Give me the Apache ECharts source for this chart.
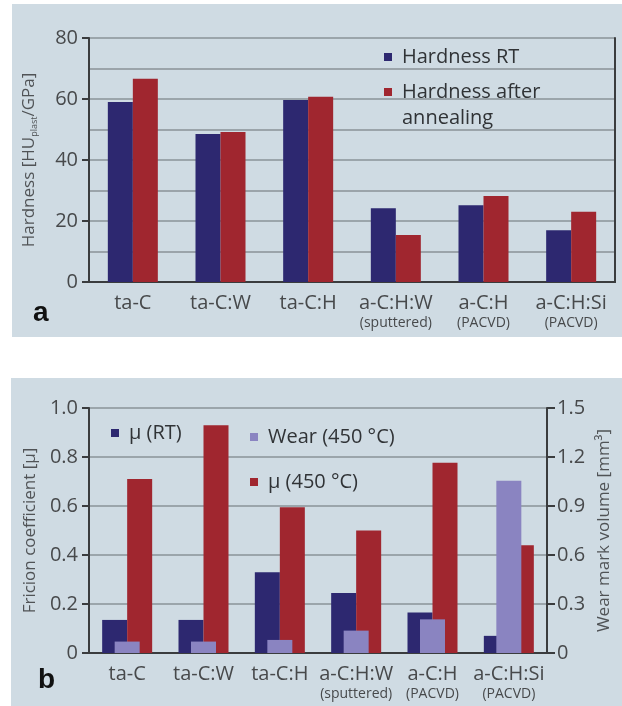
<!DOCTYPE html>
<html>
<head>
<meta charset="utf-8">
<script src="https://cdn.jsdelivr.net/npm/echarts@6/dist/echarts.min.js"></script>
<style>
  html, body { margin: 0; padding: 0; background: #ffffff; width: 622px; height: 706px; overflow: hidden; }
  .panel { position: absolute; background: #cfdbe3; }
  #chartA { left: 12px; top: 4px; width: 610px; height: 333px; }
  #chartB { left: 11px; top: 378px; width: 611px; height: 328px; }
</style>
</head>
<body>
<div id="chartA" class="panel"></div>
<div id="chartB" class="panel"></div>
<script>
// Coating types and their deposition process notes
const categories = ['ta-C', 'ta-C:W', 'ta-C:H', 'a-C:H:W', 'a-C:H', 'a-C:H:Si'];
const processNotes = ['', '', '', '(sputtered)', '(PACVD)', '(PACVD)'];

// Panel a: hardness (GPa)
const hardnessRT = [59, 48.5, 59.7, 24.2, 25.2, 17];
const hardnessAnnealed = [66.6, 49.2, 60.7, 15.4, 28.2, 23];
const hardnessTicks = [0, 20, 40, 60, 80];

// Panel b: friction coefficient and wear volume (mm³)
const frictionRT = [0.135, 0.135, 0.33, 0.245, 0.165, 0.07];
const friction450 = [0.71, 0.93, 0.595, 0.5, 0.777, 0.44];
const wear450 = [0.07, 0.07, 0.08, 0.137, 0.206, 1.055];
const frictionTicks = [0, 0.2, 0.4, 0.6, 0.8, 1.0];
const wearTicks = [0, 0.3, 0.6, 0.9, 1.2, 1.5];

const seriesNames = {
  hardRT: 'Hardness RT',
  hardAnn: 'Hardness after annealing',
  muRT: 'μ (RT)',
  wear: 'Wear (450 °C)',
  mu450: 'μ (450 °C)'
};

const FONT = '"Open Sans", "Noto Sans", sans-serif';
const NAVY = '#2d2870';
const RED = '#a0262f';
const LAVENDER = '#8a84c1';
const DARK = '#3a3c3e';
const GRID = '#8a9398';
const LABEL = '#47494b';

function catLabel(value) {
  const i = categories.indexOf(value);
  const note = processNotes[i];
  return note ? '{m|' + value + '}\n{s|' + note + '}' : '{m|' + value + '}';
}
const catRich = {
  m: { fontFamily: FONT, fontSize: 20, lineHeight: 22, color: LABEL },
  s: { fontFamily: FONT, fontSize: 14, lineHeight: 18, color: LABEL }
};
function tickFmt(v) { return v === 0 ? '0' : v.toFixed(1); }

// The two-line legend entry gets an empty first line so that its icon,
// which sits at the vertical middle of the text block, lines up with "Hardness after".
function legendText(n) {
  return n === seriesNames.hardAnn ? '\nHardness after\nannealing' : n;
}

function legendBox(name, left, top, color) {
  return {
    data: [{ name: name, icon: 'rect', itemStyle: { color: color } }],
    orient: 'vertical', left: left, top: top, padding: 0,
    itemWidth: 8, itemHeight: 8,
    formatter: legendText,
    textStyle: {
      fontFamily: FONT, fontSize: 20, lineHeight: 26, color: '#303336',
      padding: [0, 0, 0, 5]
    }
  };
}

// ---------- Panel a ----------
const chartA = echarts.init(document.getElementById('chartA'), null, { renderer: 'canvas' });
chartA.setOption({
  animation: false,
  grid: { left: 77, right: 7, top: 34, bottom: 55 },
  legend: [
    legendBox(seriesNames.hardRT, 372, 40, NAVY),
    legendBox(seriesNames.hardAnn, 372, 49, RED)
  ],
  xAxis: [{
    type: 'category', data: categories, position: 'bottom',
    axisLine: { lineStyle: { color: DARK, width: 2 } },
    axisTick: { show: false },
    axisLabel: { interval: 0, margin: 10, formatter: catLabel, rich: catRich }
  }, {
    type: 'category', data: categories, position: 'top',
    axisLine: { lineStyle: { color: DARK, width: 2 } },
    axisTick: { show: false }, axisLabel: { show: false }
  }],
  yAxis: [{
    type: 'value', min: hardnessTicks[0], max: hardnessTicks[hardnessTicks.length - 1], interval: 20,
    name: '{t|Hardness [HU}{sub|plast}{t|/GPa]}',
    nameLocation: 'middle', nameRotate: 90, nameGap: 50,
    nameTextStyle: {
      rich: {
        t: { fontFamily: FONT, fontSize: 17, color: '#505356' },
        sub: { fontFamily: FONT, fontSize: 9, color: '#505356', padding: [10, 0, 0, 0] }
      }
    },
    axisLine: { show: true, lineStyle: { color: DARK, width: 2 } },
    axisTick: { show: true, length: 7, lineStyle: { color: DARK, width: 2 } },
    axisLabel: { margin: 11, fontFamily: FONT, fontSize: 20, color: LABEL },
    splitLine: { show: true, lineStyle: { color: GRID, width: 1.5 } },
    minorTick: { show: false, splitNumber: 2 },
    minorSplitLine: { show: true, lineStyle: { color: GRID, width: 1.5 } }
  }, {
    type: 'value', position: 'right', min: 0, max: 80,
    axisLine: { show: true, lineStyle: { color: DARK, width: 2 } },
    axisTick: { show: false }, axisLabel: { show: false }, splitLine: { show: false }
  }],
  series: [{
    name: seriesNames.hardRT, type: 'bar', data: hardnessRT,
    barWidth: 25, barGap: '0%', itemStyle: { color: NAVY }
  }, {
    name: seriesNames.hardAnn, type: 'bar', data: hardnessAnnealed,
    barWidth: 25, barGap: '0%', itemStyle: { color: RED }
  }],
  graphic: [{
    type: 'text', left: 21, top: 295,
    style: { text: 'a', fontFamily: '"Liberation Sans", Arial, sans-serif', fontWeight: 'bold', fontSize: 28, fill: '#111' }
  }]
});

// ---------- Panel b ----------
const chartB = echarts.init(document.getElementById('chartB'), null, { renderer: 'canvas' });
chartB.setOption({
  animation: false,
  grid: { left: 78, right: 75, top: 30, bottom: 53 },
  legend: [
    legendBox(seriesNames.muRT, 100, 42, NAVY),
    legendBox(seriesNames.wear, 239, 46, LAVENDER),
    legendBox(seriesNames.mu450, 239, 91, RED)
  ],
  xAxis: [{
    type: 'category', data: categories, position: 'bottom',
    axisLine: { lineStyle: { color: DARK, width: 2 } },
    axisTick: { show: false },
    axisLabel: { interval: 0, margin: 10, formatter: catLabel, rich: catRich }
  }, {
    // second category axis carries the wear bars centred in each group; drawn as the top frame
    type: 'category', data: categories, position: 'top',
    axisLine: { lineStyle: { color: DARK, width: 2 } },
    axisTick: { show: false }, axisLabel: { show: false }
  }],
  yAxis: [{
    type: 'value', min: frictionTicks[0], max: frictionTicks[frictionTicks.length - 1], interval: 0.2,
    name: 'Fricion coefficient [μ]',
    nameLocation: 'middle', nameRotate: 90, nameGap: 50,
    nameTextStyle: { fontFamily: FONT, fontSize: 17, color: '#505356' },
    axisLine: { show: true, lineStyle: { color: DARK, width: 2 } },
    axisTick: { show: true, length: 7, lineStyle: { color: DARK, width: 2 } },
    axisLabel: { margin: 11, fontFamily: FONT, fontSize: 20, color: LABEL, formatter: tickFmt },
    splitLine: { show: true, lineStyle: { color: GRID, width: 1.5 } }
  }, {
    type: 'value', position: 'right', min: wearTicks[0], max: wearTicks[wearTicks.length - 1], interval: 0.3,
    name: 'Wear mark volume [mm³]',
    nameLocation: 'middle', nameRotate: 90, nameGap: 46,
    nameTextStyle: { fontFamily: FONT, fontSize: 17, color: '#505356' },
    axisLine: { show: true, lineStyle: { color: DARK, width: 2 } },
    axisTick: { show: true, length: 8, lineStyle: { color: DARK, width: 2 } },
    axisLabel: { margin: 10, fontFamily: FONT, fontSize: 20, color: LABEL, formatter: tickFmt },
    splitLine: { show: false }
  }],
  series: [{
    name: seriesNames.muRT, type: 'bar', data: frictionRT,
    xAxisIndex: 0, yAxisIndex: 0,
    barWidth: 25, barGap: '0%', itemStyle: { color: NAVY }
  }, {
    name: seriesNames.mu450, type: 'bar', data: friction450,
    xAxisIndex: 0, yAxisIndex: 0,
    barWidth: 25, barGap: '0%', itemStyle: { color: RED }
  }, {
    name: seriesNames.wear, type: 'bar', data: wear450,
    xAxisIndex: 1, yAxisIndex: 1, z: 3,
    barWidth: 25, itemStyle: { color: LAVENDER }
  }],
  graphic: [{
    type: 'text', left: 27, top: 288,
    style: { text: 'b', fontFamily: '"Liberation Sans", Arial, sans-serif', fontWeight: 'bold', fontSize: 28, fill: '#111' }
  }]
});
</script>
</body>
</html>
